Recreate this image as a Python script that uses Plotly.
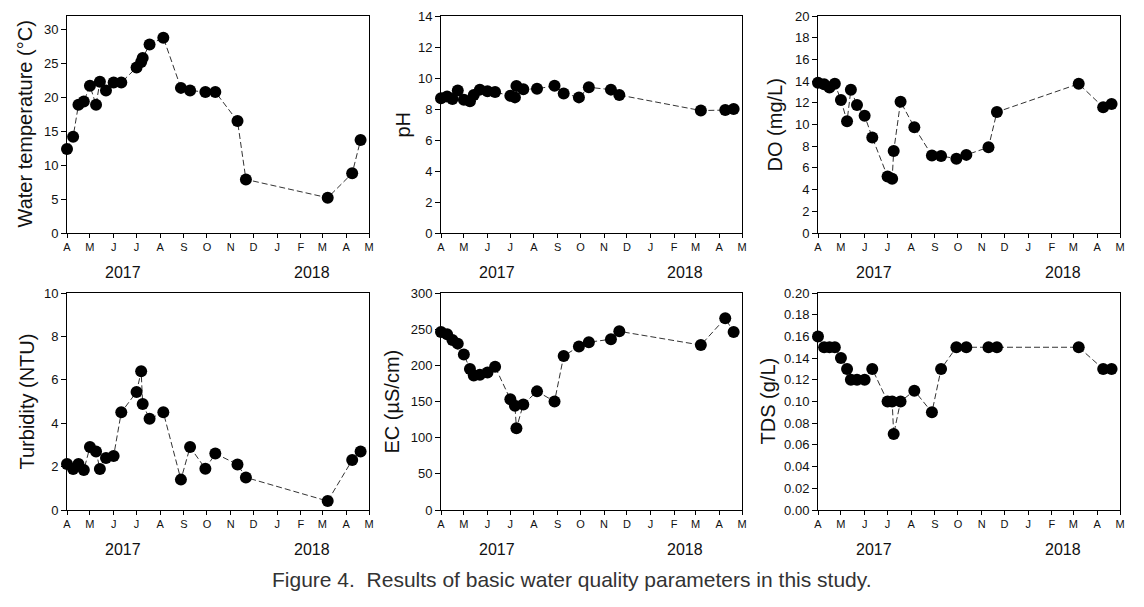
import plotly.graph_objects as go

W, H = 1144, 607

sample_dates = [
    "2017-04-01", "2017-04-09", "2017-04-16", "2017-04-23", "2017-05-01",
    "2017-05-09", "2017-05-14", "2017-05-22", "2017-06-01", "2017-06-11",
    "2017-07-01", "2017-07-07", "2017-07-09", "2017-07-18", "2017-08-05",
    "2017-08-28", "2017-09-09", "2017-09-29", "2017-10-12", "2017-11-10",
    "2017-11-21", "2018-03-08", "2018-04-09", "2018-04-20",
]

water_temp = [12.4, 14.2, 18.9, 19.4, 21.7, 18.9, 22.3, 21.0, 22.2, 22.2,
              24.4, 25.2, 25.8, 27.8, 28.8, 21.4, 21.0, 20.8, 20.8, 16.5,
              7.9, 5.2, 8.8, 13.7]
ph = [8.7, 8.8, 8.65, 9.2, 8.6, 8.5, 8.9, 9.25, 9.15, 9.1,
      8.85, 8.75, 9.48, 9.28, 9.3, 9.5, 9.0, 8.75, 9.4, 9.25,
      8.9, 7.9, 7.93, 8.0]
do = [13.85, 13.7, 13.4, 13.75, 12.25, 10.3, 13.2, 11.8, 10.8, 8.8,
      5.2, 5.0, 7.55, 12.1, 9.75, 7.15, 7.1, 6.85, 7.2, 7.9,
      11.15, 13.75, 11.6, 11.9]
turbidity = [2.12, 1.89, 2.12, 1.84, 2.9, 2.7, 1.89, 2.4, 2.49, 4.5,
             5.44, 6.39, 4.88, 4.2, 4.5, 1.4, 2.9, 1.9, 2.6, 2.1,
             1.5, 0.41, 2.3, 2.7]
ec = [246, 243, 235, 230, 215, 195, 186, 187, 190, 198,
      153, 144, 113, 146, 164, 150, 213, 226, 232, 236,
      247, 228, 265, 246]
tds = [0.16, 0.15, 0.15, 0.15, 0.14, 0.13, 0.12, 0.12, 0.12, 0.13,
       0.10, 0.10, 0.07, 0.10, 0.11, 0.09, 0.13, 0.15, 0.15, 0.15,
       0.15, 0.15, 0.13, 0.13]

month_ticks = ["2017-04-01", "2017-05-01", "2017-06-01", "2017-07-01", "2017-08-01",
               "2017-09-01", "2017-10-01", "2017-11-01", "2017-12-01", "2018-01-01",
               "2018-02-01", "2018-03-01", "2018-04-01", "2018-05-01"]
month_labels = ["A", "M", "J", "J", "A", "S", "O", "N", "D", "J", "F", "M", "A", "M"]
year_labels = ["2017", "2018"]
year_positions = ["2017-06-13", "2018-02-15"]

panels = [
    ("Water temperature (°C)", water_temp, [0, 32], 5, None),
    ("pH", ph, [0, 14], 2, None),
    ("DO (mg/L)", do, [0, 20], 2, None),
    ("Turbidity (NTU)", turbidity, [0, 10], 2, None),
    ("EC (µS/cm)", ec, [0, 300], 50, None),
    ("TDS (g/L)", tds, [0, 0.2], 0.02, ".2f"),
]

# pixel geometry of plot areas
col_px = [(67, 369), (441, 742), (818, 1120)]
row_px = [(16, 233), (293, 510)]
title_x_px = [25, 403, 775, 26, 391, 767]
FONT = "Liberation Sans, Arial, sans-serif"

fig = go.Figure()
annotations = []
for i, (title, vals, yr, dt, fmt) in enumerate(panels):
    r, c = divmod(i, 3)
    x0, x1 = col_px[c]
    y0, y1 = row_px[r]
    n = i + 1
    xa = "x" if n == 1 else f"x{n}"
    ya = "y" if n == 1 else f"y{n}"
    fig.add_trace(go.Scatter(
        x=sample_dates, y=vals, mode="lines+markers",
        line=dict(color="#333333", width=1, dash="6px,3px"),
        marker=dict(color="black", size=12),
        cliponaxis=False, showlegend=False, xaxis=xa, yaxis=ya,
    ))
    xkey = "xaxis" if n == 1 else f"xaxis{n}"
    ykey = "yaxis" if n == 1 else f"yaxis{n}"
    fig.layout[xkey] = dict(
        domain=[x0 / W, x1 / W], anchor=ya, type="date",
        range=["2017-04-01", "2018-05-01"],
        tickmode="array", tickvals=month_ticks, ticktext=month_labels,
        ticks="outside", ticklen=4, tickwidth=1, tickcolor="black",
        showline=True, linecolor="black", linewidth=1, mirror=True,
        showgrid=False, zeroline=False, automargin=False,
        tickfont=dict(family=FONT, size=11, color="#111111"),
    )
    ykw = dict(
        domain=[1 - y1 / H, 1 - y0 / H], anchor=xa, range=yr,
        tick0=0, dtick=dt,
        ticks="outside", ticklen=5, tickwidth=1, tickcolor="black",
        showline=True, linecolor="black", linewidth=1, mirror=True,
        showgrid=False, zeroline=False, automargin=False,
        tickfont=dict(family=FONT, size=13, color="#111111"),
    )
    if fmt:
        ykw["tickformat"] = fmt
    fig.layout[ykey] = ykw
    annotations.append(dict(
        text=title, x=title_x_px[i] / W, y=1 - (y0 + y1) / 2 / H,
        xref="paper", yref="paper", textangle=-90, showarrow=False,
        xanchor="center", yanchor="middle",
        font=dict(family=FONT, size=20, color="#111111"),
    ))
    for yl, yp in zip(year_labels, year_positions):
        annotations.append(dict(
            text=yl, x=yp, y=1 - (y1 + 39) / H, xref=xa, yref="paper",
            showarrow=False, xanchor="center", yanchor="middle",
            font=dict(family=FONT, size=16, color="#111111"),
        ))

annotations.append(dict(
    text="Figure 4.  Results of basic water quality parameters in this study.",
    x=572 / W, y=1 - 579 / H, xref="paper", yref="paper", showarrow=False,
    xanchor="center", yanchor="middle",
    font=dict(family="Liberation Sans Narrow, Liberation Sans, Arial", size=21, color="#333333"),
))

fig.update_layout(
    width=W, height=H, margin=dict(l=0, r=0, t=0, b=0),
    paper_bgcolor="white", plot_bgcolor="white",
    annotations=annotations, showlegend=False,
)
fig.write_html("out.html", config={"displayModeBar": False},
               post_script="document.body.style.margin='0px';")
